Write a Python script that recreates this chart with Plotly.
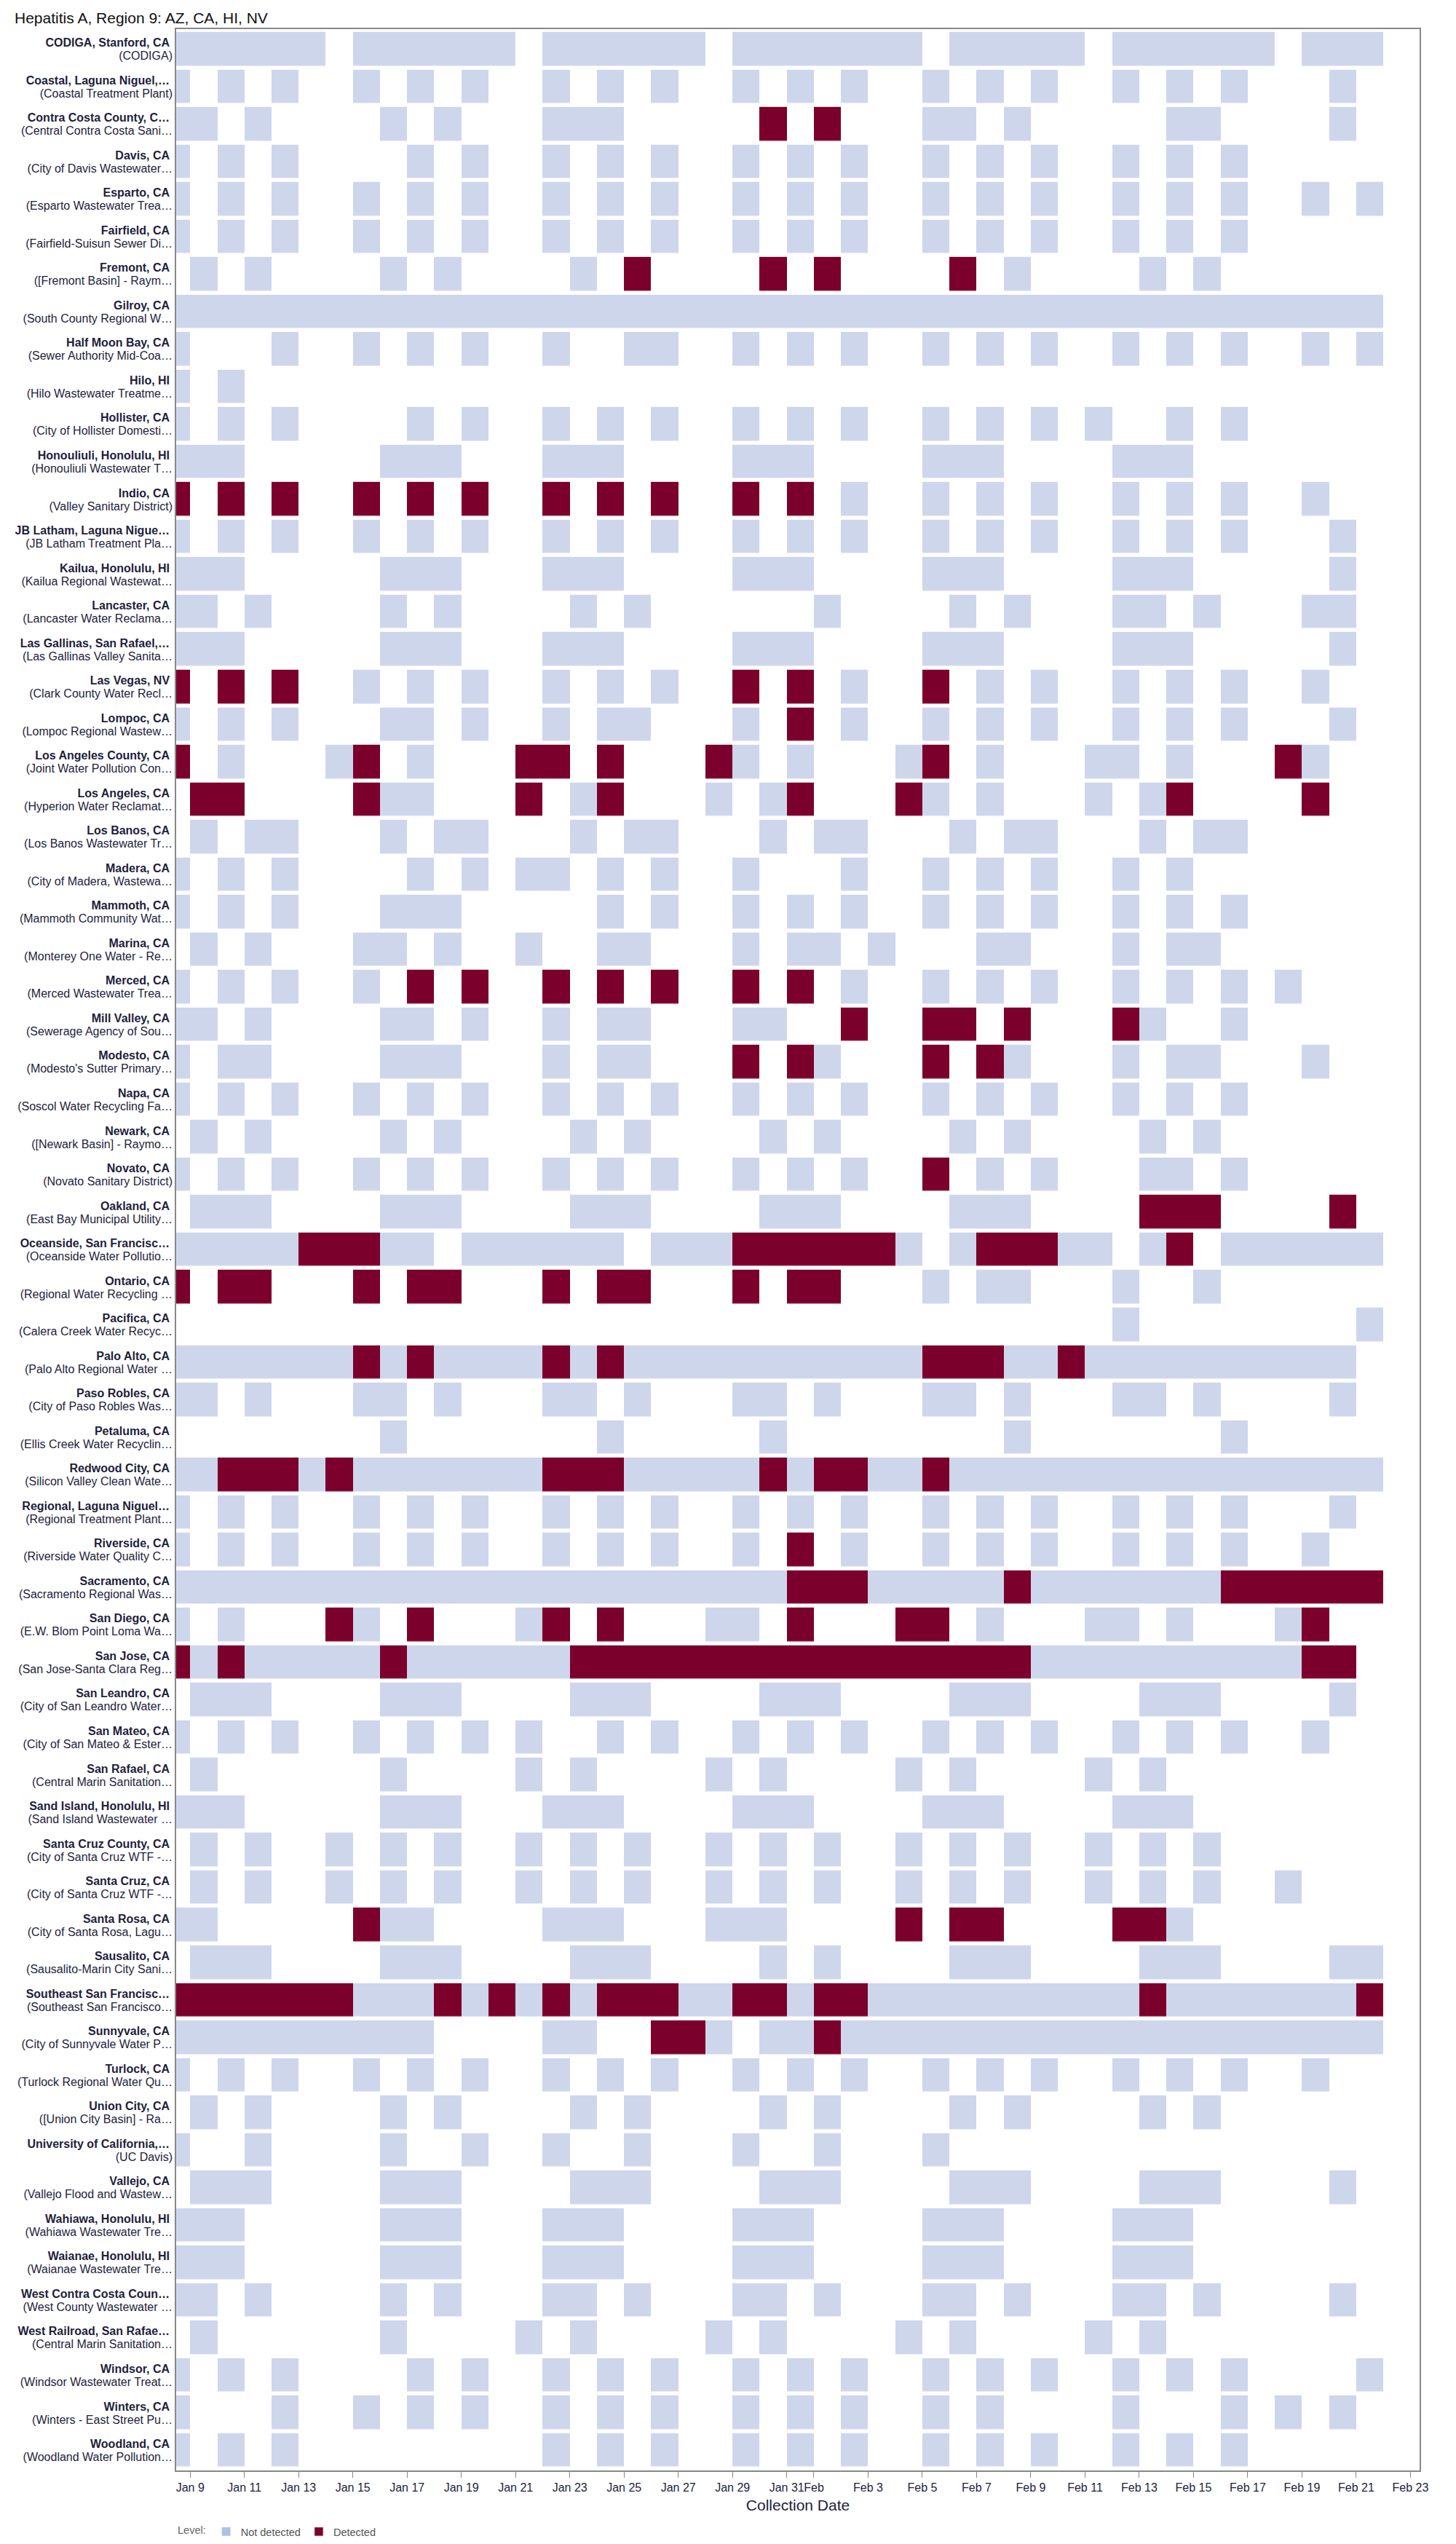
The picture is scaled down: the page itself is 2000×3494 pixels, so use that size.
import plotly.graph_objects as go
import pandas as pd

# ---------------- data ----------------
site_names = [
    "CODIGA, Stanford, CA", "Coastal, Laguna Niguel,…", "Contra Costa County, C…", "Davis, CA",
    "Esparto, CA", "Fairfield, CA", "Fremont, CA", "Gilroy, CA", "Half Moon Bay, CA", "Hilo, HI",
    "Hollister, CA", "Honouliuli, Honolulu, HI", "Indio, CA", "JB Latham, Laguna Nigue…",
    "Kailua, Honolulu, HI", "Lancaster, CA", "Las Gallinas, San Rafael,…", "Las Vegas, NV",
    "Lompoc, CA", "Los Angeles County, CA", "Los Angeles, CA", "Los Banos, CA", "Madera, CA",
    "Mammoth, CA", "Marina, CA", "Merced, CA", "Mill Valley, CA", "Modesto, CA", "Napa, CA",
    "Newark, CA", "Novato, CA", "Oakland, CA", "Oceanside, San Francisc…", "Ontario, CA",
    "Pacifica, CA", "Palo Alto, CA", "Paso Robles, CA", "Petaluma, CA", "Redwood City, CA",
    "Regional, Laguna Niguel…", "Riverside, CA", "Sacramento, CA", "San Diego, CA", "San Jose, CA",
    "San Leandro, CA", "San Mateo, CA", "San Rafael, CA", "Sand Island, Honolulu, HI",
    "Santa Cruz County, CA", "Santa Cruz, CA", "Santa Rosa, CA", "Sausalito, CA",
    "Southeast San Francisc…", "Sunnyvale, CA", "Turlock, CA", "Union City, CA",
    "University of California,…", "Vallejo, CA", "Wahiawa, Honolulu, HI", "Waianae, Honolulu, HI",
    "West Contra Costa Coun…", "West Railroad, San Rafae…", "Windsor, CA", "Winters, CA",
    "Woodland, CA",
]

facility_names = [
    "(CODIGA)", "(Coastal Treatment Plant)", "(Central Contra Costa Sani…", "(City of Davis Wastewater…",
    "(Esparto Wastewater Trea…", "(Fairfield-Suisun Sewer Di…", "([Fremont Basin] - Raym…",
    "(South County Regional W…", "(Sewer Authority Mid-Coa…", "(Hilo Wastewater Treatme…",
    "(City of Hollister Domesti…", "(Honouliuli Wastewater T…", "(Valley Sanitary District)",
    "(JB Latham Treatment Pla…", "(Kailua Regional Wastewat…", "(Lancaster Water Reclama…",
    "(Las Gallinas Valley Sanita…", "(Clark County Water Recl…", "(Lompoc Regional Wastew…",
    "(Joint Water Pollution Con…", "(Hyperion Water Reclamat…", "(Los Banos Wastewater Tr…",
    "(City of Madera, Wastewa…", "(Mammoth Community Wat…", "(Monterey One Water - Re…",
    "(Merced Wastewater Trea…", "(Sewerage Agency of Sou…", "(Modesto's Sutter Primary…",
    "(Soscol Water Recycling Fa…", "([Newark Basin] - Raymo…", "(Novato Sanitary District)",
    "(East Bay Municipal Utility…", "(Oceanside Water Pollutio…", "(Regional Water Recycling …",
    "(Calera Creek Water Recyc…", "(Palo Alto Regional Water …", "(City of Paso Robles Was…",
    "(Ellis Creek Water Recyclin…", "(Silicon Valley Clean Wate…", "(Regional Treatment Plant…",
    "(Riverside Water Quality C…", "(Sacramento Regional Was…", "(E.W. Blom Point Loma Wa…",
    "(San Jose-Santa Clara Reg…", "(City of San Leandro Water…", "(City of San Mateo &amp; Ester…",
    "(Central Marin Sanitation…", "(Sand Island Wastewater …", "(City of Santa Cruz WTF -…",
    "(City of Santa Cruz WTF -…", "(City of Santa Rosa, Lagu…", "(Sausalito-Marin City Sani…",
    "(Southeast San Francisco…", "(City of Sunnyvale Water P…", "(Turlock Regional Water Qu…",
    "([Union City Basin] - Ra…", "(UC Davis)", "(Vallejo Flood and Wastew…",
    "(Wahiawa Wastewater Tre…", "(Waianae Wastewater Tre…", "(West County Wastewater …",
    "(Central Marin Sanitation…", "(Windsor Wastewater Treat…", "(Winters - East Street Pu…",
    "(Woodland Water Pollution…",
]

# one string per site, one character per collection day (Jan 8 ... Feb 21, grouped by week)
# '.' = no sample, 'n' = Not detected, 'D' = Detected
levels = [
    "nnnnnn. nnnnnn. nnnnnn. nnnnnnn .nnnnn. nnnnnn. nnn",
    "n.n.n.. n.n.n.. n.n.n.. n.n.n.. n.n.n.. n.n.n.. .n.",
    "nn.n... .n.n... nnn.... .D.D... nn.n... ..nn... .n.",
    "n.n.n.. ..n.n.. n.n.n.. n.n.n.. n.n.n.. n.n.n.. ...",
    "n.n.n.. n.n.n.. n.n.n.. n.n.n.. n.n.n.. n.n.n.. n.n",
    "n.n.n.. n.n.n.. n.n.n.. n.n.n.. n.n.n.. n.n.n.. ...",
    ".n.n... .n.n... .n.D... .D.D... .D.n... .n.n... ...",
    "nnnnnnn nnnnnnn nnnnnnn nnnnnnn nnnnnnn nnnnnnn nnn",
    "n...n.. n.n.n.. n..nn.. n.n.n.. n.n.n.. n.n.n.. n.n",
    "n.n.... ....... ....... ....... ....... ....... ...",
    "n.n.n.. ..n.n.. n.n.n.. n.n.n.. n.n.n.n ..n.n.. ...",
    "nnn.... .nnn... nnn.... nnn.... nnn.... nnn.... ...",
    "D.D.D.. D.D.D.. D.D.D.. D.D.n.. n.n.n.. n.n.n.. n..",
    "n.n.n.. n.n.n.. n.n.n.. n.n.n.. n.n.n.. n.n.n.. .n.",
    "nnn.... .nnn... nnn.... nnn.... nnn.... nnn.... .n.",
    "nn.n... .n.n... .n.n... ...n... .n.n... nn.n... nn.",
    "nnn.... .nnn... nnn.... nnn.... nnn.... nnn.... .n.",
    "D.D.D.. n.n.n.. n.n.n.. D.D.n.. D.n.n.. n.n.n.. n..",
    "n.n.n.. .nn.n.. n.nn... n.D.n.. n.n.n.. n.n.n.. .n.",
    "D.n...n D.n...D D.D...D n.n...n D.n...n n.n...D n..",
    ".DD.... Dnn...D .nD...n .nD...D n.n...n .nD.... D..",
    ".n.nn.. .n.nn.. .n.nn.. .n.nn.. .n.nn.. .n.nn.. ...",
    "n.n.n.. ..n.n.n n.n.n.. n...n.. n.n.n.. n.n.... ...",
    "n.n.n.. .nnn... ..n.n.. n.n.n.. n.n.n.. n.n.n.. ...",
    ".n.n... nn.n..n ..nn... n.nn.n. ..nn... n.nn... ...",
    "n.n.n.. n.D.D.. D.D.D.. D.D.n.. n.n.n.. n.n.n.n ...",
    "nn.n... .nn.n.. n.nn... nn..D.. DD.D... Dn..n.. ...",
    "n.nn... .nnn... n.nn... D.Dn... D.Dn... n.nn... n..",
    "n.n.n.. n.n.n.. n.n.n.. n.n.n.. n.n.n.. n.n.n.. ...",
    ".n.n... .n.n... .n.n... .n.n... .n.n... .n.n... ...",
    "n.n.n.. n.n.n.. n.n.n.. n.n.n.. D.n.n.. .nn.n.. ...",
    ".nnn... .nnn... .nnn... .nnn... .nnn... .DDD... .D.",
    "nnnnnDD Dnn.nnn nnn.nnn DDDDDDn .nDDDnn .nD.nnn nnn",
    "D.DD... D.DD... D.DD... D.DD... n.nn... n..n... ...",
    "....... ....... ....... ....... ....... n...... ..n",
    "nnnnnnn DnDnnnn DnDnnnn nnnnnnn DDDnnDn nnnnnnn nn.",
    "nn.n... nn.n... nn.n... nn.n... nn.n... nn.n... .n.",
    "....... .n..... ..n.... .n..... ...n... ....n.. ...",
    "nnDDDnD nnnnnnn DDDnnnn nDnDDnn Dnnnnnn nnnnnnn nnn",
    "n.n.n.. n.n.n.. n.n.n.. n.n.n.. n.n.n.. n.n.n.. .n.",
    "n.n.n.. n.n.n.. n.n.n.. n.D.n.. n.n.n.. n.n.n.. n..",
    "nnnnnnn nnnnnnn nnnnnnn nnDDDnn nnnDnnn nnnnDDD DDD",
    "n.n...D n.D...n D.D...n n.D...D D.n...n n.n...n D..",
    "DnDnnnn nDnnnnn nDDDDDD DDDDDDD DDDDnnn nnnnnnn DD.",
    ".nnn... .nnn... .nnn... .nnn... .nnn... .nnn... .n.",
    "n.n.n.. n.n.n.n ..n.n.. n.n.n.. n.n.n.. n.n.n.. n..",
    ".n..... .n....n .n....n .n....n .n....n .n..... ...",
    "nnn.... .nnn... nnn.... nnn.... nnn.... nnn.... ...",
    ".n.n..n .n.n..n .n.n..n .n.n..n .n.n..n .n.n... ...",
    ".n.n..n .n.n..n .n.n..n .n.n..n .n.n..n .n.n..n ...",
    "nn..... Dnn.... nnn...n nn....D .DD.... DDn.... ...",
    ".nnn... .nnn... .nnn... .n.n... .nnn... .nnn... .nn",
    "DDDDDDD nnnDnDn DnDDDnn DDnDDnn nnnnnnn nDnnnnn nnD",
    "nnnnnnn nnn.... nn..DDn .nnDnnn nnnnnnn nnnnnnn nnn",
    "n.n.n.. n.n.n.. n.n.n.. n.n.n.. n.n.n.. n.n.n.. n..",
    ".n.n... .n.n... .n.n... .n.n... .n.n... .n.n... ...",
    "n..n... .n..n.. n..n... n..n... n...... ....... ...",
    ".nnn... .nnn... .nnn... .nnn... .nnn... .nnn... .n.",
    "nnn.... .nnn... nnn.... nnn.... nnn.... nnn.... ...",
    "nnn.... .nnn... nnn.... nnn.... nnn.... nnn.... ...",
    "nn.n... .n.n... nn.n... nn.n... nn.n... nn.n... .n.",
    ".n..... .n....n .n....n .n....n .n....n .n..... ...",
    "n.n.n.. ..n.n.. n.n.n.. n.n.n.. n.n.n.. n.n.n.. ..n",
    "n...n.. n.n.n.. n.n.n.. n.n.n.. n.n.... n...n.n .n.",
    "n.n.n.. ....... n.n.n.. n.n.n.. n.n.n.. n.n.n.. ...",
]

first_day = "2024-01-08"
n_days = 45

tick_dates = ["2024-01-09", "2024-01-11", "2024-01-13", "2024-01-15", "2024-01-17", "2024-01-19",
              "2024-01-21", "2024-01-23", "2024-01-25", "2024-01-27", "2024-01-29", "2024-01-31",
              "2024-02-01", "2024-02-03", "2024-02-05", "2024-02-07", "2024-02-09", "2024-02-11",
              "2024-02-13", "2024-02-15", "2024-02-17", "2024-02-19", "2024-02-21", "2024-02-23"]
tick_labels = ["Jan 9", "Jan 11", "Jan 13", "Jan 15", "Jan 17", "Jan 19", "Jan 21", "Jan 23",
               "Jan 25", "Jan 27", "Jan 29", "Jan 31", "Feb", "Feb 3", "Feb 5", "Feb 7", "Feb 9",
               "Feb 11", "Feb 13", "Feb 15", "Feb 17", "Feb 19", "Feb 21", "Feb 23"]

level_names = ["Not detected", "Detected"]
cell_colors = ["#ced6ec", "#7b002c"]
legend_colors = ["#aec0e3", "#7b002c"]

# ---------------- build ----------------
code = {".": None, "n": 0, "D": 1}
z = []
for i, s in enumerate(levels):
    s = s.replace(" ", "")
    assert len(s) == n_days, (i, site_names[i], len(s))
    z.append([code[c] for c in s])

days = pd.date_range(first_day, periods=n_days, freq="D")
x_centers = [(d + pd.Timedelta(hours=12)).strftime("%Y-%m-%d %H:%M") for d in days]
rows = list(range(len(site_names)))

FONT = "Liberation Sans, Arial, Helvetica, sans-serif"
LABEL_COLOR = "#1e1e3c"

fig = go.Figure()
fig.add_trace(go.Heatmap(
    x=x_centers, y=rows, z=z,
    zmin=0, zmax=1,
    colorscale=[[0, cell_colors[0]], [0.5, cell_colors[0]], [0.5, cell_colors[1]], [1, cell_colors[1]]],
    showscale=False, xgap=0, ygap=5.5, hoverongaps=False,
    customdata=[[site_names[i]] * n_days for i in rows],
    hovertemplate="%{customdata}<br>%{x|%b %d}<extra></extra>",
))
for name, col in zip(level_names, legend_colors):
    fig.add_trace(go.Bar(x=[None], y=[None], name=name, marker_color=col, showlegend=True))
fig.add_trace(go.Scatter(x=[None], y=[None], yaxis="y2", showlegend=False, hoverinfo="skip"))

yrange = [64.5345, -0.5345]
fig.update_layout(
    width=2000, height=3494,
    margin=dict(l=242, r=50, t=40, b=101),
    paper_bgcolor="white", plot_bgcolor="white",
    font=dict(family=FONT, color=LABEL_COLOR),
    title=dict(text="Hepatitis A, Region 9: AZ, CA, HI, NV", x=20 / 2000, xanchor="left",
               xref="container", yref="container", y=1 - 25 / 3494, yanchor="middle",
               font=dict(size=21, color="#111111", family=FONT)),
    xaxis=dict(
        type="date", range=["2024-01-08 11:36", "2024-02-23 08:04"],
        tickmode="array", tickvals=tick_dates, ticktext=tick_labels, tickangle=0,
        ticks="outside", ticklen=8, tickcolor="#888888", tickwidth=1,
        tickfont=dict(size=16, color=LABEL_COLOR),
        showline=True, linecolor="#888888", linewidth=1.5, mirror=True,
        showgrid=False, zeroline=False, automargin=False,
        title=dict(text="Collection Date", font=dict(size=21, color=LABEL_COLOR), standoff=9),
    ),
    yaxis=dict(
        range=yrange, tickmode="array", tickvals=rows,
        ticktext=["<b>%s</b>" % s for s in site_names],
        ticks="", tickfont=dict(size=16, color=LABEL_COLOR), ticklabelstandoff=4,
        ticklabelshift=9, automargin=False,
        showline=True, linecolor="#888888", linewidth=1.5, mirror=True,
        showgrid=False, zeroline=False,
    ),
    yaxis2=dict(
        overlaying="y", side="left", range=yrange, tickmode="array", tickvals=rows,
        ticktext=facility_names, ticks="", tickfont=dict(size=16, color=LABEL_COLOR),
        ticklabelstandoff=4, ticklabelshift=-9, automargin=False,
        showline=False, showgrid=False, zeroline=False,
    ),
    legend=dict(
        orientation="h", x=0, xanchor="left", xref="paper",
        yref="container", y=1 - 3477 / 3494, yanchor="middle",
        title=dict(text="Level:", font=dict(size=14.5, color="#666666")),
        font=dict(size=14.5, color="#555555"), bgcolor="rgba(0,0,0,0)",
        itemwidth=30,
    ),
)

fig.write_html("out.html", config={"displayModeBar": False},
               post_script="document.body.style.margin='0';")
